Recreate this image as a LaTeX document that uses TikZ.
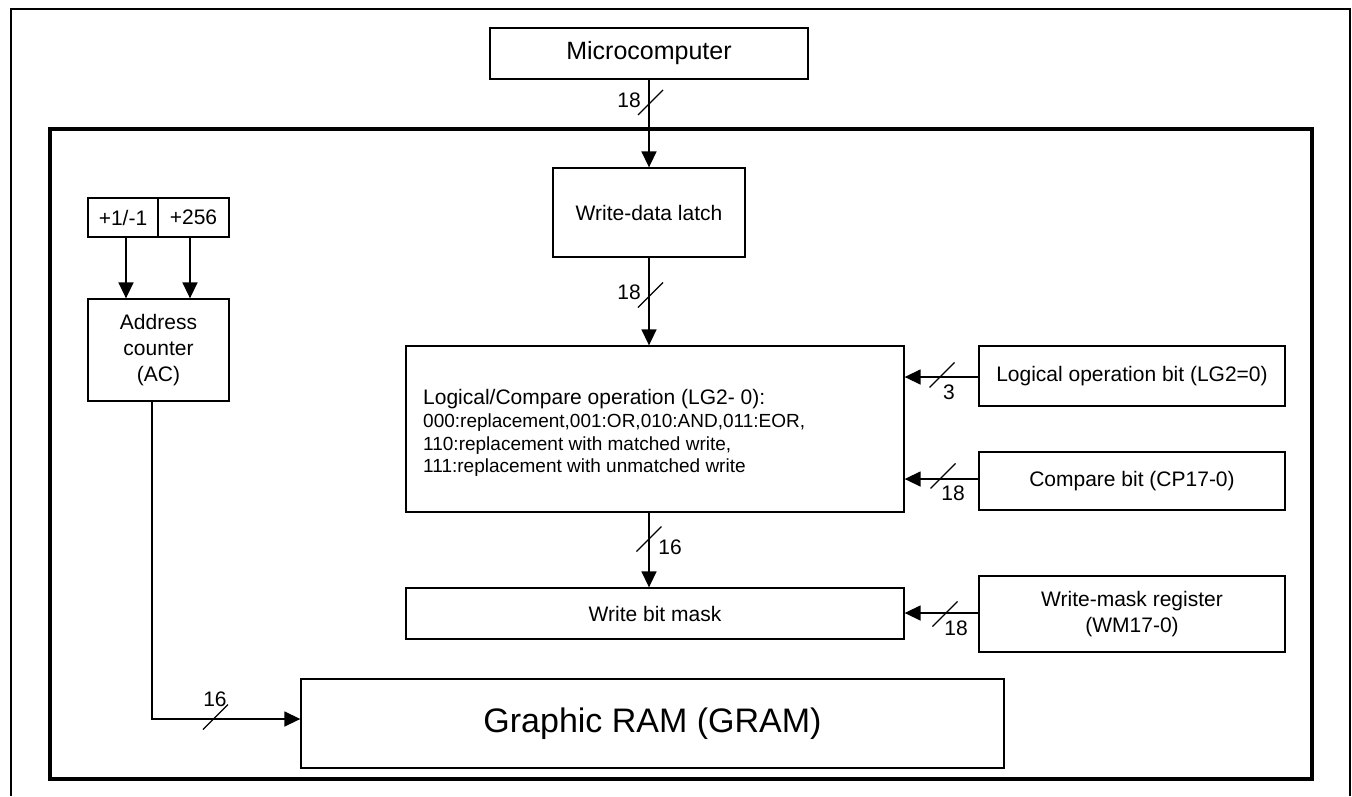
\documentclass[tikz,border=0pt]{standalone}
\usepackage{fontspec}
\setmainfont{Liberation Sans}
\usetikzlibrary{arrows.meta,calc}
\begin{document}
\begin{tikzpicture}[x=1pt,y=-1pt,
  box/.style={draw, line width=1.3pt, inner sep=0pt, align=center, font=\fontsize{21}{26}\selectfont},
  conn/.style={line width=1.5pt, -{Triangle[length=16pt,width=15pt]}},
  lbl/.style={font=\fontsize{21}{21}\selectfont, inner sep=0pt},
  optext/.style={anchor=base west, inner sep=0pt},
  busmark/.pic={\draw[line width=1.2pt] (-12.5,12.5) -- (12.5,-12.5);}]
\useasboundingbox (0,0) rectangle (1352,796);
% frames
\draw[line width=2pt] (11,796) -- (11,9) -- (1350,9) -- (1350,796);
\draw[line width=4pt] (50,129) rectangle (1312,779);
% boxes
\node[box, minimum width=318pt, minimum height=51pt, font=\fontsize{25}{25}\selectfont] (micro) at (649,53.5) {Microcomputer};
\node[box, minimum width=192pt, minimum height=89pt] (latch) at (649,212.5) {Write-data latch};
\node[box, minimum width=70pt, minimum height=39pt] (pm1) at (123,217.5) {+1/-1};
\node[box, minimum width=71pt, minimum height=39pt] (p256) at (193.5,217.5) {+256};
\node[box, minimum width=141pt, minimum height=102pt] (ac) at (158.5,350) {Address\\counter\\(AC)};
\node[box, minimum width=498pt, minimum height=166pt] (logic) at (655,429) {};
\node[optext, font=\fontsize{21}{23}\selectfont] (lt1) at (423,404) {Logical/Compare operation (LG2- 0):};
\node[optext, font=\fontsize{19}{23}\selectfont] (lt2) at (423,427) {000:replacement,001:OR,010:AND,011:EOR,};
\node[optext, font=\fontsize{19}{23}\selectfont] (lt3) at (423,450) {110:replacement with matched write,};
\node[optext, font=\fontsize{19}{23}\selectfont] (lt4) at (423,472) {111:replacement with unmatched write};
\node[box, minimum width=498pt, minimum height=51pt] (wbm) at (655,613.5) {Write bit mask};
\node[box, minimum width=703pt, minimum height=89pt, font=\fontsize{34}{34}\selectfont] (gram) at (652.5,723.5) {Graphic RAM (GRAM)};
\node[box, minimum width=306pt, minimum height=60pt] (lob) at (1132,376) {Logical operation bit (LG2=0)};
\node[box, minimum width=306pt, minimum height=58pt] (cmp) at (1132,481) {Compare bit (CP17-0)};
\node[box, minimum width=306pt, minimum height=76pt] (wmr) at (1132,614) {Write-mask register\\(WM17-0)};
% connectors
\draw[conn] (micro.south) -- (micro.south |- latch.north);
\draw[conn] (latch.south) -- (latch.south |- logic.north);
\draw[conn] (latch.south |- logic.south) -- (latch.south |- wbm.north);
\draw[conn] ([xshift=3pt]pm1.south) -- ([xshift=3pt]pm1.south |- ac.north);
\draw[conn] ([xshift=-3.5pt]p256.south) -- ([xshift=-3.5pt]p256.south |- ac.north);
\draw[conn] ([xshift=-6.5pt]ac.south) |- ([yshift=4.5pt]gram.west);
\draw[conn] ([yshift=-1pt]lob.west) -- ([yshift=-1pt]lob.west -| logic.east);
\draw[conn] ([yshift=2pt]cmp.west) -- ([yshift=2pt]cmp.west -| logic.east);
\draw[conn] ([yshift=1pt]wmr.west) -- ([yshift=1pt]wmr.west -| wbm.east);
% bus marks and widths
\path (650.5,102.5) pic{busmark};
\node[lbl] (n1) at (629,100) {18};
\path (650.5,295) pic{busmark};
\node[lbl] (n2) at (629,292) {18};
\path (649,539) pic{busmark};
\node[lbl] (n3) at (670,547) {16};
\path (942,375) pic{busmark};
\node[lbl] (n4) at (949,392) {3};
\path (943,476) pic{busmark};
\node[lbl] (n5) at (953,493) {18};
\path (945,614) pic{busmark};
\node[lbl] (n6) at (956,628) {18};
\path (215.5,717) pic{busmark};
\node[lbl] (n7) at (215,699) {16};
\end{tikzpicture}
\end{document}
